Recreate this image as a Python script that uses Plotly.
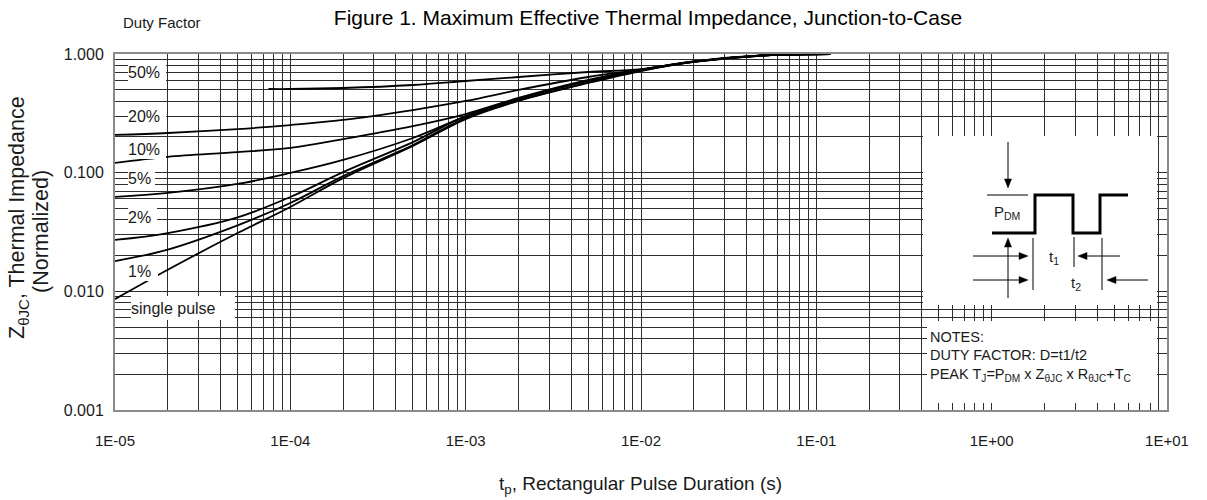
import plotly.graph_objects as go

# ---------------- data ----------------
pulse_duration = [1e-5, 2e-5, 5e-5, 1e-4, 2e-4, 5e-4, 1e-3, 2e-3, 5e-3, 1e-2, 2e-2, 5e-2, 1e-1, 1.2e-1]
z_single = [0.0086, 0.0152, 0.031, 0.0514, 0.090, 0.168, 0.283, 0.402, 0.570, 0.719, 0.857, 0.971, 0.995, 1.0]
z_d01 = [0.018, 0.0225, 0.036, 0.0555, 0.0935, 0.171, 0.289, 0.406, 0.575, 0.726, 0.857, 0.971, 0.995, 1.0]
z_d02 = [0.0271, 0.031, 0.042, 0.0624, 0.101, 0.181, 0.300, 0.418, 0.593, 0.733, 0.860, 0.972, 0.995, 1.0]
z_d05 = [0.0624, 0.0675, 0.0803, 0.0994, 0.128, 0.196, 0.298, 0.421, 0.597, 0.735, 0.862, 0.973, 0.995, 1.0]
z_d10 = [0.121, 0.136, 0.149, 0.162, 0.192, 0.247, 0.312, 0.426, 0.604, 0.737, 0.864, 0.974, 0.996, 1.0]
z_d20 = [0.208, 0.216, 0.233, 0.252, 0.278, 0.337, 0.402, 0.498, 0.640, 0.740, 0.866, 0.975, 0.996, 1.0]
pulse_duration_50 = [7.5e-5, 1e-4, 2e-4, 5e-4, 1e-3, 2e-3, 5e-3, 1e-2, 2e-2, 5e-2, 1e-1, 1.2e-1]
z_d50 = [0.507, 0.507, 0.517, 0.548, 0.592, 0.640, 0.705, 0.745, 0.868, 0.976, 0.997, 1.0]

x_tick_vals = [1e-5, 1e-4, 1e-3, 1e-2, 1e-1, 1e0, 1e1]
x_tick_text = ["1E-05", "1E-04", "1E-03", "1E-02", "1E-01", "1E+00", "1E+01"]
y_tick_vals = [0.001, 0.01, 0.1, 1.0]
y_tick_text = ["0.001", "0.010", "0.100", "1.000"]
curve_labels = ["50%", "20%", "10%", "5%", "2%", "1%", "single pulse"]

# ---------------- geometry helpers ----------------
W, H = 1207, 500
L, R, T, B = 115, 40, 54, 90
PW, PH = W - L - R, H - T - B
FONT = "Liberation Sans, Arial, Helvetica, sans-serif"
INK = "#1a1a1a"


def px(x):
    return (x - L) / PW


def py(y):
    return (H - B - y) / PH


fig = go.Figure()

series = [
    (pulse_duration_50, z_d50),
    (pulse_duration, z_d20),
    (pulse_duration, z_d10),
    (pulse_duration, z_d05),
    (pulse_duration, z_d02),
    (pulse_duration, z_d01),
    (pulse_duration, z_single),
]
for (xs, ys), name in zip(series, curve_labels):
    fig.add_trace(go.Scatter(
        x=xs, y=ys, mode="lines", name=name,
        line=dict(color="black", width=1.8, shape="spline", smoothing=1.0),
        showlegend=False, hoverinfo="skip",
    ))

grid_c = "#2e2e2e"
fig.update_xaxes(
    type="log", range=[-5, 1],
    tickmode="array", tickvals=x_tick_vals, ticktext=x_tick_text,
    ticks="outside", ticklen=16, tickcolor="rgba(0,0,0,0)",
    showgrid=True, gridcolor=grid_c, gridwidth=1.3,
    minor=dict(dtick="D1", showgrid=True, gridcolor=grid_c, gridwidth=1.3, ticks=""),
    showline=True, mirror=True, linecolor="#8a8a8a", linewidth=2,
    tickfont=dict(family=FONT, size=15, color=INK),
    zeroline=False,
)
fig.update_yaxes(
    type="log", range=[-3, 0],
    tickmode="array", tickvals=y_tick_vals, ticktext=y_tick_text,
    ticks="outside", ticklen=6, tickcolor="rgba(0,0,0,0)",
    showgrid=True, gridcolor=grid_c, gridwidth=1.3,
    minor=dict(dtick="D1", showgrid=True, gridcolor=grid_c, gridwidth=1.3, ticks=""),
    showline=True, mirror=True, linecolor="#8a8a8a", linewidth=2,
    tickfont=dict(family=FONT, size=16, color=INK),
    zeroline=False,
)

shapes = []
# white inset boxes (cover the grid; no curves pass there)
for (x0, y0, x1, y1) in [(923, 136, 1157, 305), (927, 321, 1157, 403)]:
    shapes.append(dict(type="rect", xref="paper", yref="paper",
                       x0=px(x0), x1=px(x1), y0=py(y1), y1=py(y0),
                       fillcolor="white", line=dict(width=0), layer="above"))

# pulse waveform
pulse_pts = [(992, 233), (1035, 233), (1035, 195), (1073, 195), (1073, 233),
             (1100, 233), (1100, 195), (1128, 195)]
path = "M " + " L ".join(f"{px(a):.5f},{py(b):.5f}" for a, b in pulse_pts)
shapes.append(dict(type="path", xref="paper", yref="paper", path=path,
                   line=dict(color="black", width=3), layer="above"))
# thin guide lines
for (x0, y0, x1, y1) in [(987, 195, 1028, 195), (1033, 238, 1033, 290),
                         (1074, 237, 1074, 267), (1102, 238, 1102, 290)]:
    shapes.append(dict(type="line", xref="paper", yref="paper",
                       x0=px(x0), y0=py(y0), x1=px(x1), y1=py(y1),
                       line=dict(color="black", width=1), layer="above"))

# arrows as line + filled triangle: (tail_x, tail_y, head_x, head_y)
HL, HW = 9, 3.5
for tx, ty, hx, hy in [(1008, 142, 1008, 188), (1008, 298, 1008, 238),
                       (973, 256, 1028, 256), (973, 280, 1028, 280),
                       (1120, 256, 1078, 256), (1148, 280, 1107, 280)]:
    dx = (hx > tx) - (hx < tx)
    dy = (hy > ty) - (hy < ty)
    bx, by = hx - dx * HL, hy - dy * HL
    shapes.append(dict(type="line", xref="paper", yref="paper",
                       x0=px(tx), y0=py(ty), x1=px(bx), y1=py(by),
                       line=dict(color="black", width=1), layer="above"))
    if dx:
        tri = [(hx, hy), (bx, by - HW), (bx, by + HW)]
    else:
        tri = [(hx, hy), (bx - HW, by), (bx + HW, by)]
    tpath = "M " + " L ".join(f"{px(a):.5f},{py(b):.5f}" for a, b in tri) + " Z"
    shapes.append(dict(type="path", xref="paper", yref="paper", path=tpath,
                       fillcolor="black", line=dict(color="black", width=0.5),
                       layer="above"))
fig.update_layout(shapes=shapes)

ann = []
# diagram labels
for txt, cx, cy in [("P<sub>DM</sub>", 1007, 212), ("t<sub>1</sub>", 1054, 257),
                    ("t<sub>2</sub>", 1076, 283)]:
    ann.append(dict(xref="paper", yref="paper", x=px(cx), y=py(cy), text=txt,
                    showarrow=False, xanchor="center", yanchor="middle",
                    font=dict(family=FONT, size=15, color=INK)))

notes = ["NOTES:", "DUTY FACTOR: D=t1/t2",
         "PEAK T<sub>J</sub>=P<sub>DM</sub> x Z<sub>θJC</sub> x R<sub>θJC</sub>+T<sub>C</sub>"]
for txt, cy in zip(notes, [337, 355, 375]):
    ann.append(dict(xref="paper", yref="paper", x=px(928), y=py(cy), text=txt,
                    showarrow=False, xanchor="left", yanchor="middle",
                    font=dict(family=FONT, size=14.5, color=INK)))

# curve labels with white boxes: (left, top, right, bottom)
label_boxes = [(128, 62, 166, 83), (128, 106, 166, 126), (128, 139, 166, 159),
               (128, 169, 155, 188), (128, 207, 157, 227), (128, 261, 158, 281),
               (131, 296, 235, 320)]
for txt, (l, t, r, b) in zip(curve_labels, label_boxes):
    ann.append(dict(xref="paper", yref="paper", x=px(l), y=py(t), text=txt,
                    showarrow=False, xanchor="left", yanchor="top",
                    width=r - l, height=b - t, align="left", valign="middle",
                    bgcolor="white", borderpad=0, borderwidth=0,
                    font=dict(family=FONT, size=16, color=INK)))

# headings and axis titles
ann.append(dict(xref="paper", yref="paper", x=px(162), y=py(22), text="Duty Factor",
                showarrow=False, xanchor="center", yanchor="middle",
                font=dict(family=FONT, size=15, color=INK)))
ann.append(dict(xref="paper", yref="paper", x=px(18), y=py(218),
                text="Z<sub>θJC</sub>, Thermal Impedance", textangle=-90,
                showarrow=False, xanchor="center", yanchor="middle",
                font=dict(family=FONT, size=21.5, color=INK)))
ann.append(dict(xref="paper", yref="paper", x=px(41), y=py(232),
                text="(Normalized)", textangle=-90,
                showarrow=False, xanchor="center", yanchor="middle",
                font=dict(family=FONT, size=21.5, color=INK)))
ann.append(dict(xref="paper", yref="paper", x=px(640), y=py(485),
                text="t<sub>p</sub>, Rectangular Pulse Duration (s)",
                showarrow=False, xanchor="center", yanchor="middle",
                font=dict(family=FONT, size=19, color=INK)))
fig.update_layout(annotations=ann)

fig.update_layout(
    width=W, height=H,
    margin=dict(l=L, r=R, t=T, b=B, pad=0),
    paper_bgcolor="white", plot_bgcolor="white",
    title=dict(text="Figure 1. Maximum Effective Thermal Impedance, Junction-to-Case",
               x=648 / W, xanchor="center", y=1 - 18 / H, yanchor="middle",
               font=dict(family=FONT, size=21, color="black")),
    showlegend=False,
)

fig.write_html("out.html")
